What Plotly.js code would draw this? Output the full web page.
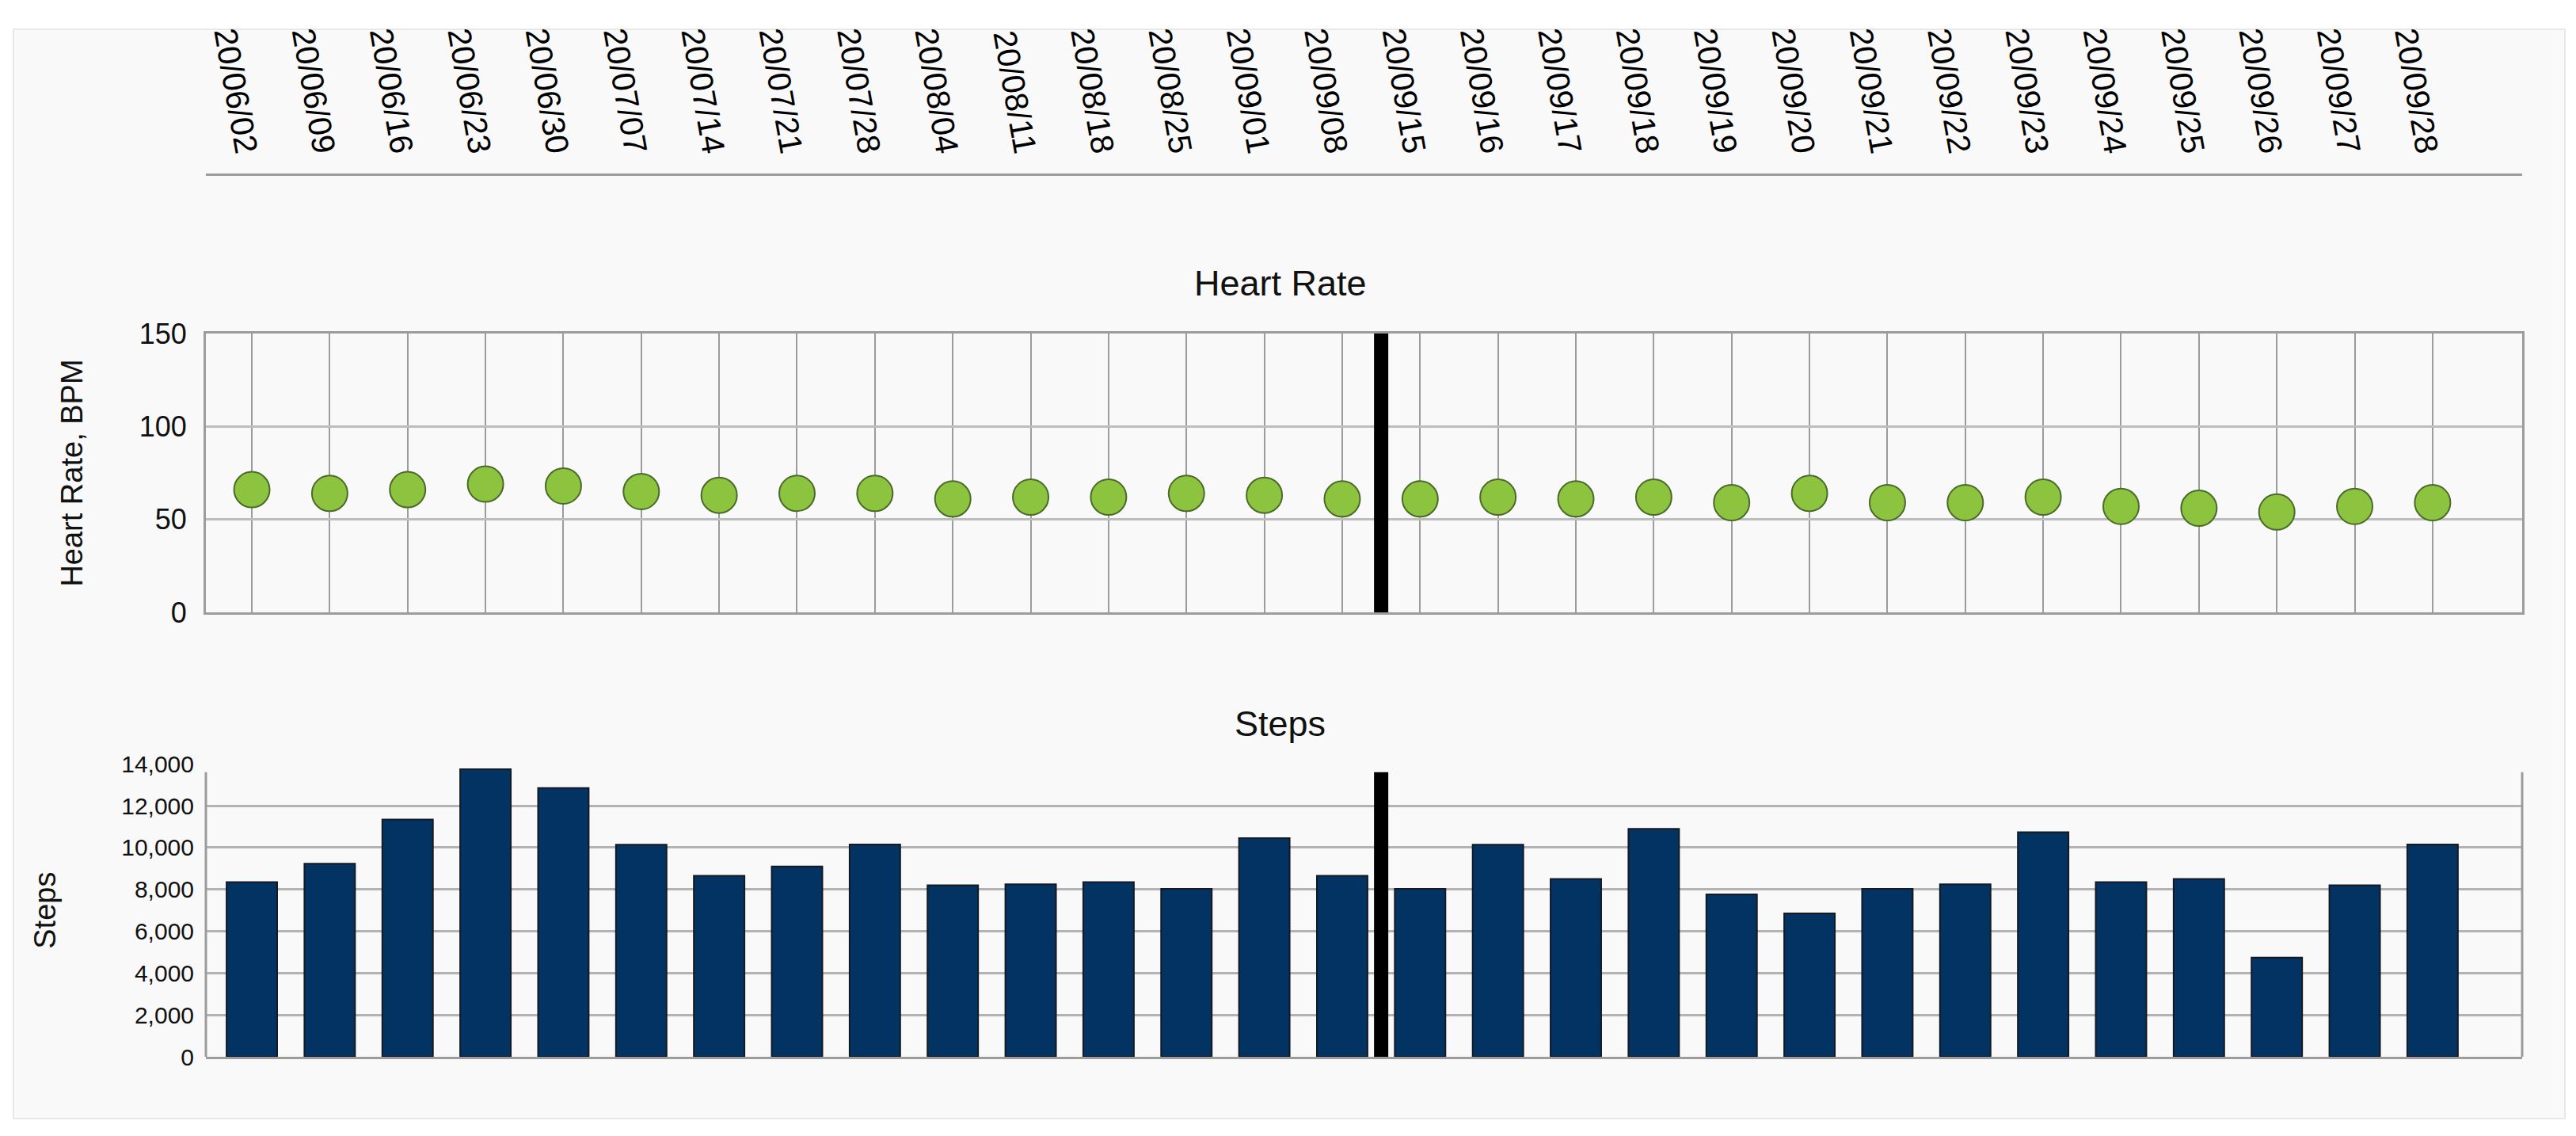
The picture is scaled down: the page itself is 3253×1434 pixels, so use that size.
<!DOCTYPE html>
<html>
<head>
<meta charset="utf-8">
<script src="https://cdn.plot.ly/plotly-3.0.1.min.js"></script>
<style>
html,body{margin:0;padding:0;background:#ffffff;}
#chart{width:3253px;height:1434px;}
</style>
</head>
<body>
<div id="chart"></div>
<script>
const dates = ["20/06/02","20/06/09","20/06/16","20/06/23","20/06/30","20/07/07","20/07/14","20/07/21","20/07/28",
  "20/08/04","20/08/11","20/08/18","20/08/25","20/09/01","20/09/08","20/09/15","20/09/16","20/09/17","20/09/18",
  "20/09/19","20/09/20","20/09/21","20/09/22","20/09/23","20/09/24","20/09/25","20/09/26","20/09/27","20/09/28"];
const heartRate = [66,64,66,69,68,65,63,64,64,61,62,62,64,63,61,61,62,61,62,59,64,59,59,62,57,56,54,57,59];
const steps = [8350,9230,11340,13750,12850,10140,8650,9100,10150,8200,8250,8350,8030,10450,8650,
  8030,10140,8500,10900,7760,6850,8030,8250,10740,8350,8500,4740,8200,10150];
const heartTicks = [0,50,100,150];
const markerPosition = 14.5; // divider between 20/09/08 and 20/09/15

const X_DOMAIN = [260/3253, 3185/3253];
const X_RANGE = [-0.59, 29.15];
const FRAME = '#9c9c9c';

const traces = [
  {
    type:'scatter', mode:'markers', x:dates, y:heartRate, xaxis:'x', yaxis:'y',
    marker:{size:45, color:'#8cc43f', line:{color:'#4b6a2a', width:2}},
    hoverinfo:'x+y', cliponaxis:false
  },
  {
    type:'bar', x:dates, y:steps, xaxis:'x2', yaxis:'y2', width:0.65,
    marker:{color:'#033362', line:{color:'#141a22', width:2}},
    hoverinfo:'x+y'
  },
  {
    type:'scatter', mode:'markers', x:dates, y:dates.map(() => 0.5), xaxis:'x3', yaxis:'y3',
    marker:{opacity:0}, hoverinfo:'skip'
  }
];

const layout = {
  width:3253, height:1434,
  margin:{l:0, r:0, t:0, b:0},
  paper_bgcolor:'#ffffff', plot_bgcolor:'rgba(0,0,0,0)',
  showlegend:false,
  font:{family:'"Liberation Sans", Arial, sans-serif', color:'#111111'},
  title:{text:'Heart Rate', x:0.497, xanchor:'center', y:0.751, yanchor:'middle',
         font:{size:45, color:'#111111'}},
  xaxis:{
    domain:X_DOMAIN, type:'category', range:X_RANGE, anchor:'y',
    tickmode:'linear', tick0:0, dtick:1,
    showline:true, mirror:true, linecolor:FRAME, linewidth:3,
    showgrid:true, gridcolor:FRAME, gridwidth:2,
    showticklabels:false, ticks:'', zeroline:false, fixedrange:true
  },
  yaxis:{
    domain:[1-773/1434, 1-421/1434], range:[0,150], tickmode:'array', tickvals:heartTicks,
    showline:true, mirror:true, linecolor:FRAME, linewidth:3,
    showgrid:true, gridcolor:'#bdbdbd', gridwidth:3, zeroline:false,
    ticks:'', ticklabelstandoff:14, tickfont:{size:36, color:'#111111'},
    title:{text:'Heart Rate, BPM', font:{size:38, color:'#111111'}, standoff:60},
    fixedrange:true
  },
  xaxis2:{
    domain:X_DOMAIN, type:'category', range:X_RANGE, anchor:'y2',
    tickmode:'linear', tick0:0, dtick:1,
    showline:true, linecolor:FRAME, linewidth:3,
    showgrid:false, showticklabels:false, ticks:'', zeroline:false, fixedrange:true
  },
  yaxis2:{
    domain:[1-1334/1434, 1-964.3/1434], range:[0,14000], tickmode:'linear', tick0:0, dtick:2000,
    tickformat:',', showline:false,
    showgrid:true, gridcolor:'#b3b3b3', gridwidth:3, zeroline:false,
    ticks:'', ticklabelstandoff:14, tickfont:{size:30, color:'#111111'},
    title:{text:'Steps', font:{size:38, color:'#111111'}, standoff:70},
    fixedrange:true
  },
  xaxis3:{
    domain:X_DOMAIN, type:'category', range:X_RANGE, anchor:'y3', side:'top',
    tickmode:'linear', tick0:0, dtick:1,
    showline:true, linecolor:FRAME, linewidth:3,
    showgrid:false, zeroline:false,
    ticks:'', ticklabelstandoff:-10,
    tickangle:80, tickfont:{size:41, color:'#000000'}, fixedrange:true
  },
  yaxis3:{domain:[0.8445, 1-222/1434], range:[0,1], visible:false, fixedrange:true},
  annotations:[
    {text:'Steps', xref:'paper', yref:'paper', x:0.497, y:1-913/1434,
     xanchor:'center', yanchor:'middle', showarrow:false, font:{size:45, color:'#111111'}}
  ],
  shapes:[
    {type:'rect', layer:'below', xref:'paper', yref:'paper',
     x0:17/3253, x1:3239/3253, y0:1-1412/1434, y1:1-37/1434,
     fillcolor:'#f9f9f9', line:{color:'#e8e8e8', width:2}},
    {type:'line', layer:'above', xref:'x', yref:'y domain', x0:markerPosition, x1:markerPosition, y0:0, y1:1,
     line:{color:'#000000', width:18}},
    {type:'line', layer:'above', xref:'x2', yref:'y2', x0:markerPosition, x1:markerPosition, y0:0, y1:13600,
     line:{color:'#000000', width:18}},
    {type:'line', layer:'above', xref:'x2 domain', yref:'y2', x0:0, x1:0, y0:0, y1:13600,
     line:{color:FRAME, width:3}},
    {type:'line', layer:'above', xref:'x2 domain', yref:'y2', x0:1, x1:1, y0:0, y1:13600,
     line:{color:FRAME, width:3}}
  ]
};

Plotly.newPlot('chart', traces, layout, {displayModeBar:false, staticPlot:false});
</script>
</body>
</html>
